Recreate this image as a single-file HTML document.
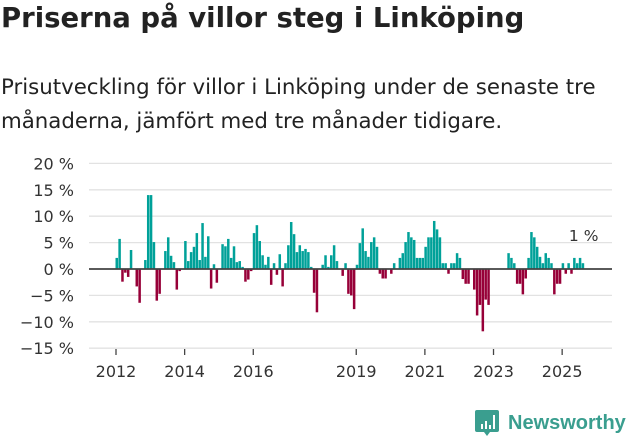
<!DOCTYPE html>
<html><head><meta charset="utf-8"><style>
body{margin:0;width:631px;height:439px;background:#fff;overflow:hidden;font-family:"DejaVu Sans","Liberation Sans",sans-serif;color:#222}
h1{position:absolute;left:1px;top:2px;margin:0;font-size:27.5px;font-weight:bold;letter-spacing:0px;white-space:nowrap}
p{position:absolute;left:1px;top:71px;margin:0;font-size:21.3px;line-height:34px;color:#222;width:630px;white-space:nowrap}
svg{position:absolute;left:0;top:0}
</style></head><body>
<h1>Priserna på villor steg i Linköping</h1>
<p>Prisutveckling för villor i Linköping under de senaste tre<br>månaderna, jämfört med tre månader tidigare.</p>
<svg id="chart" width="631" height="439" font-family="DejaVu Sans, sans-serif"></svg>
<script>
const yTicks=[20,15,10,5,0,-5,-10,-15];
const xTickYears=[2012,2014,2016,2019,2021,2023,2025];
const startYear=2012;
const values=[2.1,5.7,-2.4,-0.7,-1.5,3.6,0,-3.3,-6.4,0,
1.7,14,14,5.1,-6,-4.7,0,3.4,6,2.5,
1.3,-3.9,-0.4,0,5.3,1.5,3.2,4.2,6.8,1.7,
8.7,2.3,6.2,-3.7,0.9,-2.6,0,4.7,4.3,5.7,
2.1,4.3,1.3,1.5,0.4,-2.4,-2,-0.4,6.8,8.3,
5.3,2.6,0.8,2.3,-3,1.1,-1.1,2.8,-3.3,1.1,
4.5,8.9,6.6,3.2,4.5,3.4,3.8,3.2,0.4,-4.5,
-8.2,0,0.8,2.6,0.4,2.6,4.5,1.5,0,-1.3,
1.1,-4.7,-5,-7.6,0.8,4.9,7.7,3.4,2.3,5.1,
6,4.2,-0.9,-1.8,-1.8,0,-0.9,1.1,0,2.1,
3,5.1,7,6,5.5,2.1,2.1,2.1,4.2,6,
6,9.1,7.5,6,1.1,1.1,-0.9,1.1,1.1,3,
2.1,-1.9,-2.8,-2.8,0,-3.9,-8.8,-6.8,-11.8,-5.8,
-6.8,0,0,0,0,0,0,3,2.1,1.1,
-2.8,-2.8,-4.8,-1.8,2.1,7,6,4.2,2.3,1.1,
3,2.1,1.1,-4.8,-2.8,-2.8,1.1,-0.9,1.1,-0.9,
2.1,1.1,2.1,1.1];
const lastLabel="1 %";
const NS="http://www.w3.org/2000/svg";
const svg=document.getElementById('chart');
function y(v){return 269-v*5.28;}
function x(i){return 115.5+i*2.86;}
function mk(t,a){const e=document.createElementNS(NS,t);for(const k in a)e.setAttribute(k,a[k]);svg.appendChild(e);return e;}
yTicks.forEach(t=>{
 const g=mk('line',{x1:89,x2:612,y1:y(t),y2:y(t),stroke:'#e2e2e2','stroke-width':1.3});
 
 
 const l=mk('text',{x:74,y:y(t)+6,'text-anchor':'end','font-size':'16',fill:'#333'});
 l.textContent=(t<0?'\u2212'+(-t):t)+' %';
 
 
});
values.forEach((v,i)=>{
 if(v===0)return;
 const top=Math.min(y(v),y(0)),h=Math.abs(y(v)-y(0));
 const r=mk('rect',{x:x(i),y:top,width:2.5,height:h,fill:v>0?'#00a199':'#970038'});
 
 
});
const z=mk('line',{x1:89,x2:612,y1:y(0),y2:y(0),stroke:'#444','stroke-width':1.8});


xTickYears.forEach(yr=>{
 const xi=x((yr-startYear)*12)+0.5;
 const t=mk('line',{x1:xi,x2:xi,y1:349,y2:355,stroke:'#444','stroke-width':1.3});
 
 
 const l=mk('text',{x:xi,y:377,'text-anchor':'middle','font-size':'16',fill:'#333'});
 l.textContent=yr;
 
 
});
const lv=mk('text',{x:x(values.length-1)+2,y:y(values[values.length-1])-22,'text-anchor':'middle','font-size':'15.5',fill:'#333'});
lv.textContent=lastLabel;


</script>
<svg width="631" height="439" style="pointer-events:none">
<path d="M477 410 h20 a2 2 0 0 1 2 2 v18 a2 2 0 0 1 -2 2 h-7 l-3 4 l-3 -4 h-7 a2 2 0 0 1 -2 -2 v-18 a2 2 0 0 1 2 -2z" fill="#3a9e8f"/>
<rect x="481" y="424" width="2" height="5" fill="#fff"/><rect x="485" y="421" width="2" height="8" fill="#fff"/><rect x="489" y="425" width="2" height="4" fill="#fff"/><rect x="493" y="415" width="2" height="14" fill="#fff"/>
<text x="508" y="429" font-size="20" font-weight="bold" fill="#3a9e8f" font-family="Liberation Sans, sans-serif">Newsworthy</text>
</svg>
</body></html>
